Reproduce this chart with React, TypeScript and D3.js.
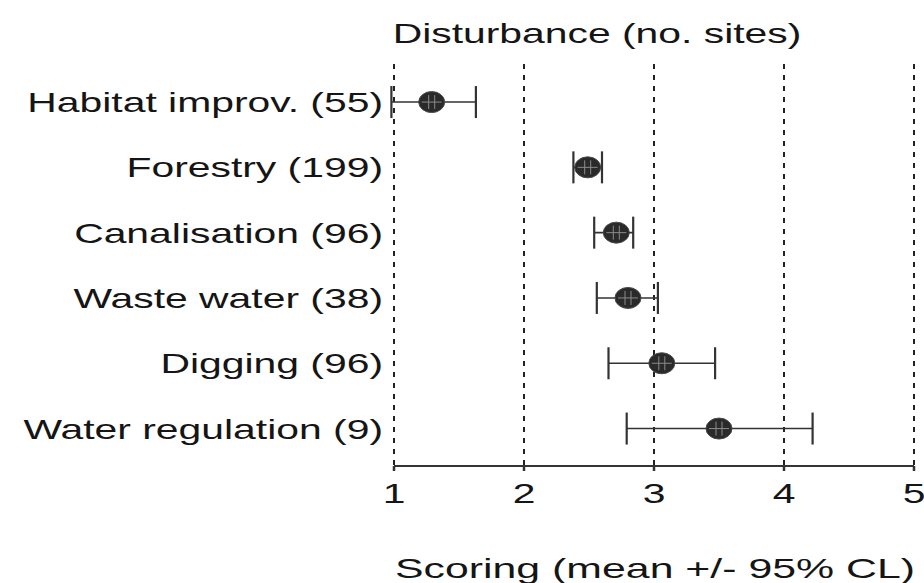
import React from "react";
import * as d3 from "d3";

const categories = [
  "Habitat improv. (55)",
  "Forestry (199)",
  "Canalisation (96)",
  "Waste water (38)",
  "Digging (96)",
  "Water regulation (9)",
];
const means = [1.29, 2.49, 2.71, 2.8, 3.06, 3.5];
const lowers = [0.98, 2.38, 2.54, 2.56, 2.65, 2.79];
const uppers = [1.63, 2.6, 2.84, 3.03, 3.47, 4.22];
const tickValues = [1, 2, 3, 4, 5];
const titleText = "Disturbance (no. sites)";
const axisTitle = "Scoring (mean +/- 95% CL)";

const W = 924;
const H = 583;
const SX = 1.46; // horizontal stretch of the original image text
const FONT = "'Liberation Sans', Arial, sans-serif";
const INK = "#151515";

export default function App() {
  const x = d3.scaleLinear().domain([1, 5]).range([394, 914]);
  const y = d3.scaleBand<string>().domain(categories).range([69.4, 461.2]).padding(0);
  const cy = (c: string) => (y(c) as number) + y.bandwidth() / 2;
  const axisY = 466;

  const stretchedText = (
    key: string,
    tx: number,
    ty: number,
    text: string,
    anchor: "start" | "middle" | "end",
    size = 28,
    sx = SX
  ) => (
    <text
      key={key}
      transform={`translate(${tx},${ty}) scale(${sx},1)`}
      textAnchor={anchor}
      fontFamily={FONT}
      fontSize={size}
      fill={INK}
    >
      {text}
    </text>
  );

  return (
    <svg
      width={W}
      height={H}
      style={{ position: "absolute", left: 0, top: 0, background: "#fff" }}
    >
      <rect width={W} height={H} fill="#fff" />
      {/* dashed reference lines */}
      {tickValues.map((t) => (
        <line
          key={"g" + t}
          x1={x(t)}
          x2={x(t)}
          y1={64}
          y2={axisY}
          stroke="#222"
          strokeWidth={2}
          strokeDasharray="5,6"
        />
      ))}
      {/* axis */}
      <line x1={x(1)} x2={x(5)} y1={axisY} y2={axisY} stroke="#333" strokeWidth={2} />
      {tickValues.map((t) => (
        <line key={"t" + t} x1={x(t)} x2={x(t)} y1={axisY} y2={axisY + 5} stroke="#333" strokeWidth={2.5} />
      ))}
      {tickValues.map((t) => stretchedText("tl" + t, x(t), 503, String(t), "middle", 28))}

      {/* title and axis title */}
      {stretchedText("title", 597, 43, titleText, "middle", 28)}
      {stretchedText("xt", 655, 578, axisTitle, "middle", 28, 1.53)}

      {/* category labels */}
      {categories.map((c) => stretchedText("c" + c, 383, cy(c) + 10, c, "end", 28))}

      {/* error bars */}
      {categories.map((c, i) => {
        const yy = cy(c);
        const x0 = x(lowers[i]);
        const x1 = x(uppers[i]);
        const xm = x(means[i]);
        return (
          <g key={"e" + c}>
            <line x1={x0} x2={x1} y1={yy} y2={yy} stroke="#333" strokeWidth={1.6} />
            <line x1={x0} x2={x0} y1={yy - 16} y2={yy + 16} stroke="#333" strokeWidth={2.2} />
            <line x1={x1} x2={x1} y1={yy - 16} y2={yy + 16} stroke="#333" strokeWidth={2.2} />
            <ellipse cx={xm} cy={yy} rx={13} ry={10.5} fill="#2a2a2a" stroke="#4a4a4a" strokeWidth={1} />
            <line x1={xm - 10} x2={xm + 10} y1={yy} y2={yy} stroke="#8a8a8a" strokeWidth={1} />
            <line x1={xm - 3} x2={xm - 3} y1={yy - 7} y2={yy + 7} stroke="#8a8a8a" strokeWidth={1} />
            <line x1={xm + 3} x2={xm + 3} y1={yy - 7} y2={yy + 7} stroke="#8a8a8a" strokeWidth={1} />
          </g>
        );
      })}
    </svg>
  );
}
